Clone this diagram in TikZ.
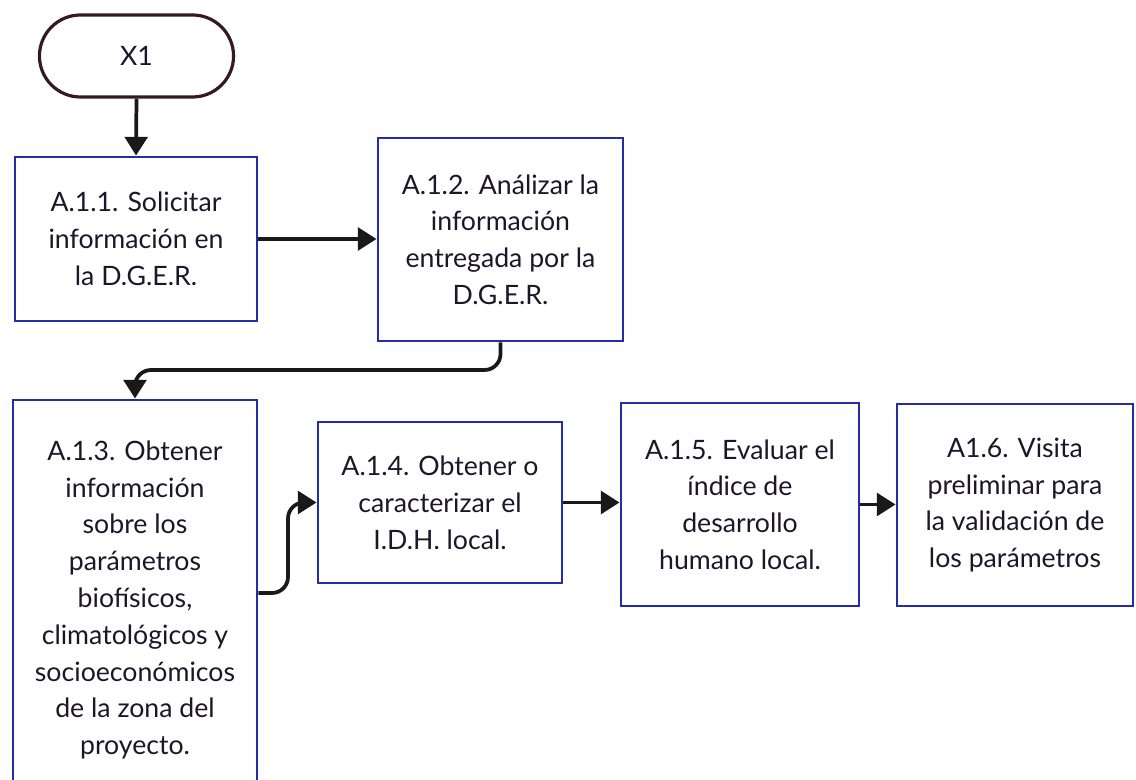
\documentclass[tikz,border=0pt]{standalone}
\usepackage{fontspec}
\setmainfont{Lato}
\usetikzlibrary{shapes.misc,arrows.meta,calc}
\definecolor{boxblue}{RGB}{35,45,170}
\definecolor{termline}{RGB}{55,25,35}
\definecolor{txt}{RGB}{30,22,40}
\tikzset{
  px/.style={x=0.75pt,y=-0.75pt},
  stepbox/.style={draw=boxblue,line width=2.2pt,rectangle,align=center,text=txt,
    font=\fontsize{20}{27.6}\selectfont,inner sep=0pt},
  term/.style={draw=termline,line width=2.4pt,rounded rectangle,text=txt,
    font=\fontsize{20}{27.6}\selectfont,minimum width=152.25pt,minimum height=61.5pt},
  conn/.style={draw=black!90,line width=2.8pt,-{Triangle[width=17pt,length=14pt]}}
}
\begin{document}
\begin{tikzpicture}[px]
\useasboundingbox (0,0) rectangle (1136,780);
\node[term] (x1) at (136.5,56) {X1};
\node[stepbox,minimum width=181.5pt,minimum height=123pt] (a11) at (136,239)
  {A.1.1. Solicitar\\información en\\la D.G.E.R.};
\node[stepbox,minimum width=183.75pt,minimum height=152.25pt] (a12) at (500.5,239.5)
  {A.1.2. Análizar la\\información\\entregada por la\\D.G.E.R.};
\node[stepbox,minimum width=183pt,minimum height=300pt] (a13) at (135,600)
  {A.1.3. Obtener\\información\\sobre los\\parámetros\\biofísicos,\\climatológicos y\\socioeconómicos\\de la zona del\\proyecto.};
\node[stepbox,minimum width=183pt,minimum height=120.75pt] (a14) at (440,502.5)
  {A.1.4. Obtener o\\caracterizar el\\I.D.H. local.};
\node[stepbox,minimum width=178.5pt,minimum height=152.25pt] (a15) at (740,504.5)
  {A.1.5. Evaluar el\\índice de\\desarrollo\\humano local.};
\node[stepbox,minimum width=177pt,minimum height=151.5pt] (a16) at (1015,505)
  {A1.6. Visita\\preliminar para\\la validación de\\los parámetros};
\coordinate (c1) at (135,370);
\coordinate (k) at (288,502.5);
\draw[conn] (x1.south) -- (a11.north);
\draw[conn] (a11.east) -- (a11.east -| a12.west);
\draw[conn,rounded corners=12pt] (a12.south) |- (c1) -- (a13.north);
\draw[conn,rounded corners=12pt] ($(a13.east)+(0,-7)$) -| (k) -- (a14.west);
\draw[conn] (a14.east) -- (a14.east -| a15.west);
\draw[conn] (a15.east) -- (a15.east -| a16.west);
\end{tikzpicture}
\end{document}
